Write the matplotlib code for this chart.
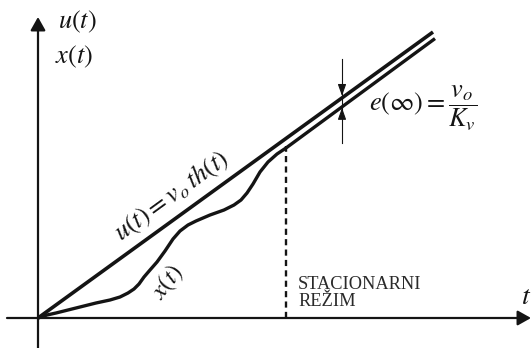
import matplotlib
matplotlib.use("Agg")
import matplotlib.pyplot as plt

plt.rcParams['mathtext.fontset'] = 'stix'
plt.rcParams['font.family'] = ['Liberation Serif', 'DejaVu Serif']

# Reference input u(t) = v0 * t (ramp) and the steady-state error
v0 = 0.724
e_inf = 0.08
t_end_u = 3.95
t_end_x = 3.97
t_steady = 2.48

# Transient part of the system response x(t)
t_x = [0.0, 0.09, 0.18, 0.38, 0.58, 0.72, 0.82, 0.90, 0.96, 1.01, 1.06,
       1.12, 1.19, 1.27, 1.35, 1.42, 1.50, 1.58, 1.72, 1.86, 1.96, 2.03,
       2.09, 2.15, 2.22, 2.30, 2.39, 2.48]
x_vals = [0.0, 0.03, 0.05, 0.10, 0.15, 0.18, 0.21, 0.25, 0.29, 0.34, 0.41,
          0.48, 0.56, 0.67, 0.79, 0.87, 0.93, 0.97, 1.03, 1.08, 1.13, 1.18,
          1.25, 1.34, 1.46, 1.56, 1.64, 1.70]

# Steady state: x(t) runs parallel to u(t), shifted down by e(inf)
t_x_full = t_x + [t_end_x]
x_full = x_vals + [v0 * t_end_x - e_inf]

fig = plt.figure(figsize=(5.31, 3.48), dpi=100)
ax = fig.add_axes([0, 0, 1, 1])
ax.set_xlim(-0.38, 4.93)
ax.set_ylim(-0.30, 3.18)
ax.axis('off')

ink = '#141414'

# Coordinate axes with arrowheads
ax.annotate('', xy=(4.93, 0), xytext=(-0.31, 0),
            arrowprops=dict(arrowstyle='-|>,head_length=0.8,head_width=0.45',
                            color=ink, lw=1.6, shrinkA=0, shrinkB=0))
ax.annotate('', xy=(0, 3.01), xytext=(0, -0.30),
            arrowprops=dict(arrowstyle='-|>,head_length=0.8,head_width=0.45',
                            color=ink, lw=1.6, shrinkA=0, shrinkB=0))

# Input ramp and response
ax.plot([0, t_end_u], [0, v0 * t_end_u], color=ink, lw=2.6,
        solid_capstyle='butt')
ax.plot(t_x_full, x_full, color=ink, lw=2.4, solid_joinstyle='round',
        solid_capstyle='butt')

# Boundary of the steady-state region
ax.plot([t_steady, t_steady], [0, v0 * t_steady - e_inf], color=ink,
        lw=1.7, ls=(0, (2.6, 1.8)))

# Steady-state error marker
t_e = 3.04
ax.plot([t_e, t_e], [1.75, 2.59], color=ink, lw=0.8)
ax.annotate('', xy=(t_e, v0 * t_e + 0.02), xytext=(t_e, v0 * t_e + 0.11),
            arrowprops=dict(arrowstyle='-|>,head_length=0.7,head_width=0.25',
                            color=ink, lw=0.8, shrinkA=0, shrinkB=0))
ax.annotate('', xy=(t_e, v0 * t_e - e_inf - 0.02),
            xytext=(t_e, v0 * t_e - e_inf - 0.11),
            arrowprops=dict(arrowstyle='-|>,head_length=0.7,head_width=0.25',
                            color=ink, lw=0.8, shrinkA=0, shrinkB=0))

# Labels
ax.text(0.39, 2.96, r'$u(t)$', fontsize=19, color=ink, ha='center', va='center')
ax.text(0.36, 2.61, r'$x(t)$', fontsize=19, color=ink, ha='center', va='center')
ax.text(4.88, 0.21, r'$t$', fontsize=20, color=ink, ha='center', va='center')
ax.text(3.31, 2.10, r'$e(\infty)=\dfrac{v_o}{K_v}$', fontsize=19, color=ink,
        ha='left', va='center')
ax.text(1.34, 1.22, r'$u(t)=v_o\,th(t)$', fontsize=19, color=ink,
        ha='center', va='center', rotation=36, rotation_mode='anchor')
ax.text(1.30, 0.35, r'$x(t)$', fontsize=18, color=ink,
        ha='center', va='center', rotation=52, rotation_mode='anchor')
ax.text(2.60, 0.25, 'STACIONARNI\nREŽIM', fontsize=13.2, color='#2a2a2a',
        ha='left', va='center', linespacing=1.0)

fig.savefig('out.png', dpi=100)
